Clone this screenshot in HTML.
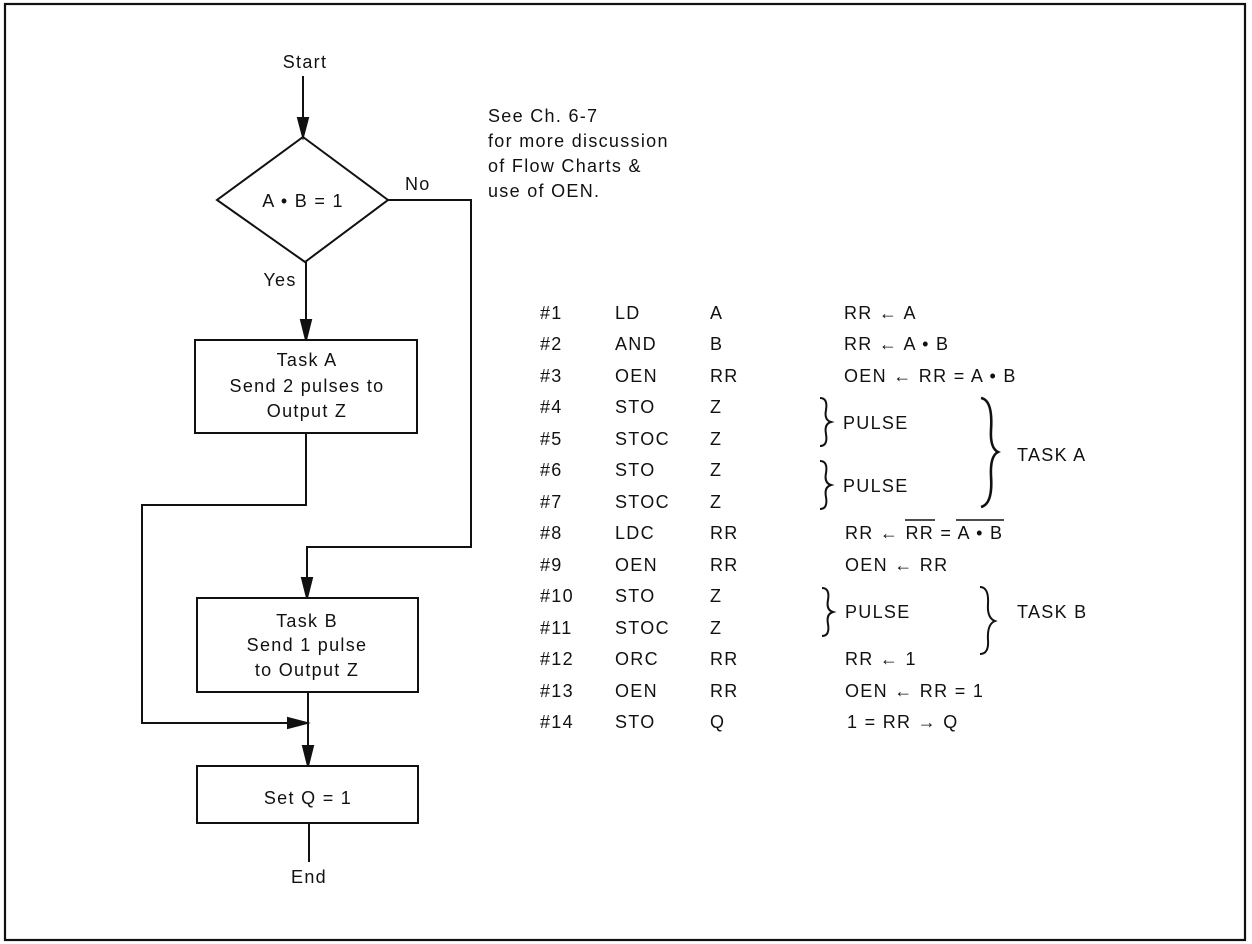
<!DOCTYPE html>
<html><head><meta charset="utf-8"><style>
html,body{margin:0;padding:0;background:#fff;}
svg{display:block;}
text{font-family:"Liberation Sans",sans-serif;font-size:18px;fill:#111;letter-spacing:1.3px;}
</style></head><body>
<svg width="1252" height="944" viewBox="0 0 1252 944" xmlns="http://www.w3.org/2000/svg">
<g stroke="#111" fill="none" stroke-width="2.2">
<rect x="5" y="4" width="1240" height="936"/>
</g>
<g stroke="#111" fill="none" stroke-width="2">
<line x1="303" y1="76" x2="303" y2="118"/>
<path d="M298,118 L308,118 L303,137 Z" fill="#111"/>
<polygon points="303,137 388,200 305,262 217,200"/>
<line x1="306" y1="262" x2="306" y2="320"/>
<path d="M301,320 L311,320 L306,340 Z" fill="#111"/>
<rect x="195" y="340" width="222" height="93"/>
<polyline points="388,200 471,200 471,547 307,547 307,578"/>
<path d="M302,578 L312,578 L307,598 Z" fill="#111"/>
<polyline points="306,433 306,505 142,505 142,723 288,723"/>
<path d="M288,718 L288,728 L307,723 Z" fill="#111"/>
<rect x="197" y="598" width="221" height="94"/>
<line x1="308" y1="692" x2="308" y2="746"/>
<path d="M303,746 L313,746 L308,766 Z" fill="#111"/>
<rect x="197" y="766" width="221" height="57"/>
<line x1="309" y1="823" x2="309" y2="862"/>
</g>
<g text-anchor="middle">
<text x="305" y="68">Start</text>
<text x="303" y="207">A • B = 1</text>
<text x="280" y="286">Yes</text>
<text x="307" y="366">Task A</text>
<text x="307" y="392">Send 2 pulses to</text>
<text x="307" y="417">Output Z</text>
<text x="307" y="627">Task B</text>
<text x="307" y="651">Send 1 pulse</text>
<text x="307" y="676">to Output Z</text>
<text x="308" y="804">Set Q = 1</text>
<text x="309" y="883">End</text>
</g>
<text x="405" y="190">No</text>
<text x="488" y="122">See Ch. 6-7</text>
<text x="488" y="147">for more discussion</text>
<text x="488" y="172">of Flow Charts &amp;</text>
<text x="488" y="197">use of OEN.</text>
<g>
<text x="540" y="319">#1</text><text x="615" y="319">LD</text><text x="710" y="319">A</text>
<text x="540" y="350">#2</text><text x="615" y="350">AND</text><text x="710" y="350">B</text>
<text x="540" y="382">#3</text><text x="615" y="382">OEN</text><text x="710" y="382">RR</text>
<text x="540" y="413">#4</text><text x="615" y="413">STO</text><text x="710" y="413">Z</text>
<text x="540" y="445">#5</text><text x="615" y="445">STOC</text><text x="710" y="445">Z</text>
<text x="540" y="476">#6</text><text x="615" y="476">STO</text><text x="710" y="476">Z</text>
<text x="540" y="508">#7</text><text x="615" y="508">STOC</text><text x="710" y="508">Z</text>
<text x="540" y="539">#8</text><text x="615" y="539">LDC</text><text x="710" y="539">RR</text>
<text x="540" y="571">#9</text><text x="615" y="571">OEN</text><text x="710" y="571">RR</text>
<text x="540" y="602">#10</text><text x="615" y="602">STO</text><text x="710" y="602">Z</text>
<text x="540" y="634">#11</text><text x="615" y="634">STOC</text><text x="710" y="634">Z</text>
<text x="540" y="665">#12</text><text x="615" y="665">ORC</text><text x="710" y="665">RR</text>
<text x="540" y="697">#13</text><text x="615" y="697">OEN</text><text x="710" y="697">RR</text>
<text x="540" y="728">#14</text><text x="615" y="728">STO</text><text x="710" y="728">Q</text>
</g>
<g>
<text x="844" y="319">RR ← A</text>
<text x="844" y="350">RR ← A • B</text>
<text x="844" y="382">OEN ← RR = A • B</text>
<text x="843" y="429">PULSE</text>
<text x="843" y="492">PULSE</text>
<text x="845" y="539">RR ← RR = A • B</text>
<line x1="905" y1="520" x2="935" y2="520" stroke="#111" stroke-width="1.6"/>
<line x1="956" y1="520" x2="1004" y2="520" stroke="#111" stroke-width="1.6"/>
<text x="845" y="571">OEN ← RR</text>
<text x="845" y="618">PULSE</text>
<text x="845" y="665">RR ← 1</text>
<text x="845" y="697">OEN ← RR = 1</text>
<text x="847" y="728">1 = RR → Q</text>
<text x="1017" y="461">TASK A</text>
<text x="1017" y="618">TASK B</text>
</g>
<g stroke="#111" fill="none" stroke-width="2">
<path d="M820,398 Q828,398 826,410 Q824,420 831,422 Q824,424 826,434 Q828,446 820,446"/>
<path d="M820,461 Q828,461 826,473 Q824,483 831,485 Q824,487 826,497 Q828,509 820,509"/>
<path d="M822,588 Q830,588 828,600 Q826,610 833,612 Q826,614 828,624 Q830,636 822,636"/>
<path d="M980,587 Q989,587 988,604 Q987,618 995,621 Q987,624 988,640 Q989,654 980,654"/>
<path d="M981,398 Q993,400 991,430 Q990,448 998,452 Q990,456 991,476 Q993,504 981,507" stroke-width="2.6"/>
</g>
</svg>
</body></html>
